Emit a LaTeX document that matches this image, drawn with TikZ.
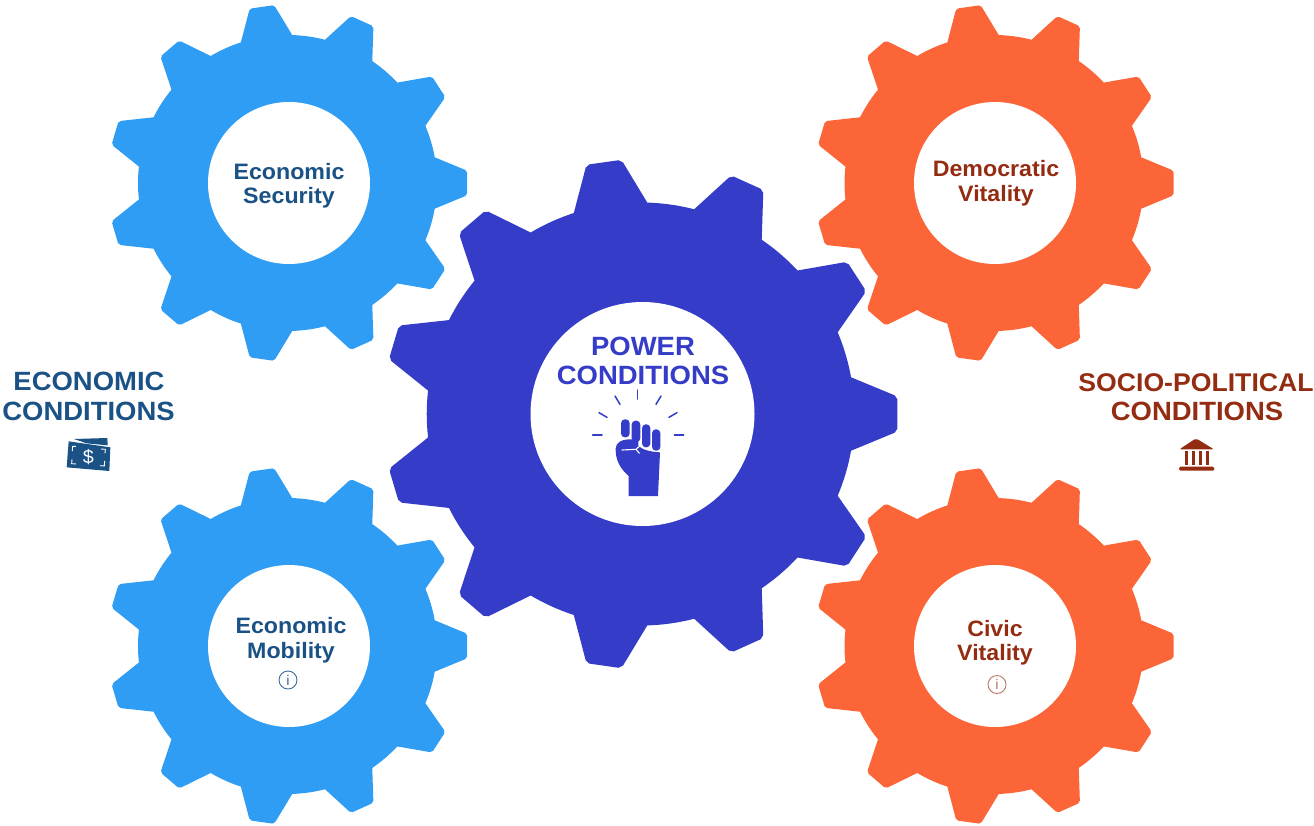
\documentclass[tikz,border=0pt]{standalone}
\usepackage{fontspec}
\setmainfont{Liberation Sans}[FakeStretch=1.04]
\definecolor{gearblue}{HTML}{309DF4}
\definecolor{gearindigo}{HTML}{343CC8}
\definecolor{gearorange}{HTML}{FB6538}
\definecolor{inkblue}{HTML}{1A5285}
\definecolor{inkbrick}{HTML}{942C12}
\newcommand{\gearshape}{%
  (-10:149.5) \foreach \k [evaluate=\k as \A using \k*360/11] in {0,...,10}{
    -- ({\A-4.25}:178.2) .. controls ({\A-3.9}:179.6) .. ({\A-3.3}:180)
    -- ({\A+3.3}:180) .. controls ({\A+3.9}:179.6) .. ({\A+4.25}:178.2)
    -- ({\A+10}:149.5) arc[start angle={\A+10}, end angle={\A+360/11-10}, radius=149.5]
  } -- cycle}
\tikzset{
  gearbody/.style={fill=#1},
  hole/.style={circle, fill=white, inner sep=0pt, minimum size=#1},
  smalllabel/.style={anchor=base, font=\bfseries\fontsize{22.3}{23}\selectfont, text=#1, inner sep=0pt},
  biglabel/.style={anchor=base, font=\bfseries\fontsize{26.4}{27}\selectfont, text=#1, inner sep=0pt},
  infomark/.style={circle, draw=#1, line width=0.9pt, text=#1, inner sep=0pt, minimum size=18pt, font=\fontsize{14}{14}\selectfont},
  ray/.style={draw=gearindigo, line width=1.5pt, line cap=round},
}
\begin{document}
\begin{tikzpicture}[x=1pt,y=1pt]
\useasboundingbox (0,0) rectangle (1314,-825);
% gears
\fill[gearbody=gearblue, shift={(287.5,-183)}, yscale=.99] \gearshape;
\fill[gearbody=gearblue, shift={(287.5,-646)}, yscale=.99] \gearshape;
\fill[gearbody=gearorange, shift={(994,-183)}, yscale=.99] \gearshape;
\fill[gearbody=gearorange, shift={(994,-646)}, yscale=.99] \gearshape;
\fill[gearbody=gearindigo, shift={(640.5,-414)}, xscale=1.43, yscale=1.415] \gearshape;
% holes
\node[hole=162pt] (h1) at (289,-183) {};
\node[hole=162pt] (h2) at (289,-646) {};
\node[hole=162pt] (h3) at (995,-183) {};
\node[hole=162pt] (h4) at (995,-646) {};
\node[hole=224pt] (h5) at (642.5,-414) {};
% labels in gears
\node[smalllabel=inkblue] (t1a) at (289,-179) {Economic};
\node[smalllabel=inkblue] (t1b) at (289,-203.5) {Security};
\node[smalllabel=inkblue] (t2a) at (291,-633.5) {Economic};
\node[smalllabel=inkblue] (t2b) at (291,-658) {Mobility};
\node[smalllabel=inkbrick] (t3a) at (996,-176.5) {Democratic};
\node[smalllabel=inkbrick] (t3b) at (996,-201) {Vitality};
\node[smalllabel=inkbrick] (t4a) at (995,-636) {Civic};
\node[smalllabel=inkbrick] (t4b) at (995,-660.5) {Vitality};
\node[infomark=inkblue!85!white] (i1) at (288,-680) {i};
\node[infomark=inkbrick!65!white] (i2) at (997,-684.5) {i};
\node[biglabel=gearindigo] (p1) at (643,-355) {POWER};
\node[biglabel=gearindigo] (p2) at (643,-384.5) {CONDITIONS};
\node[biglabel=inkblue] (e1) at (89,-390.5) {ECONOMIC};
\node[biglabel=inkblue] (e2) at (88.5,-420) {CONDITIONS};
\node[biglabel=inkbrick, font=\bfseries\fontsize{25.6}{27}\selectfont] (s1) at (1196,-391.5) {SOCIO-POLITICAL};
\node[biglabel=inkbrick] (s2) at (1197,-420) {CONDITIONS};
% fist icon
\begin{scope}[shift={(530,-300)}, xscale=1/3, yscale=-1/3]
  \draw[ray] (323,270) -- (323,297);
  \draw[ray] (255,288) -- (270,313);
  \draw[ray] (393,288) -- (378,313);
  \draw[ray] (207,338) -- (231,352);
  \draw[ray] (441,338) -- (417,352);
  \draw[ray] (188,405) -- (216,405);
  \draw[ray] (433,405) -- (461,405);
  \fill[gearindigo, rounded corners=3.8pt] (273,358) rectangle (299,412);
  \fill[gearindigo, rounded corners=3.8pt] (305,362) rectangle (331,426);
  \fill[gearindigo, rounded corners=3.8pt] (336,373) rectangle (361,442);
  \fill[gearindigo, rounded corners=3.8pt] (366,388) rectangle (391,452);
  \fill[gearindigo] (296,588) -- (296,528) .. controls (270,505) and (256,480) .. (257,445)
     .. controls (258,428) and (275,418) .. (296,418) -- (325,418) -- (325,437)
     .. controls (340,452) and (370,456) .. (390,457) -- (384,588) -- cycle;
  \draw[white, line width=1.1pt, line cap=round] (276,450) -- (318,448) (318,448) -- (330,437) (318,448) -- (328,460) (334,440) .. controls (345,450) and (358,450) .. (364,444);
\end{scope}
% money icon
\begin{scope}[shift={(0,-360)}, xscale=1/3, yscale=-1/3]
  \fill[inkblue] (222,237) -- (322,234) -- (323,256) -- (260,250) -- cycle;
  \fill[inkblue] (206,244) -- (331,262) -- (328,333) -- (200,322) -- cycle;
  \draw[white, line width=0.9pt] (228,259) -- (218,259) -- (217,273) (303,267) -- (316,268) -- (315,280) (216,298) -- (215,311) -- (228,312) (314,303) -- (313,318) -- (300,317);
  \node[text=white, font=\fontsize{19}{19}\selectfont, inner sep=0pt] (dollar) at (265,291) {\$};
\end{scope}
% temple icon
\begin{scope}[shift={(1070,-360)}, xscale=1/3, yscale=-1/3]
  \fill[inkbrick, rounded corners=2pt] (328,268) -- (378,235) -- (432,268) -- cycle;
  \fill[inkbrick] (344,274) rectangle (354,316);
  \fill[inkbrick] (365,274) rectangle (375,316);
  \fill[inkbrick] (386,274) rectangle (396,316);
  \fill[inkbrick] (407,274) rectangle (417,316);
  \fill[inkbrick, rounded corners=1.5pt] (327,320) rectangle (433,332);
\end{scope}
\end{tikzpicture}
\end{document}
